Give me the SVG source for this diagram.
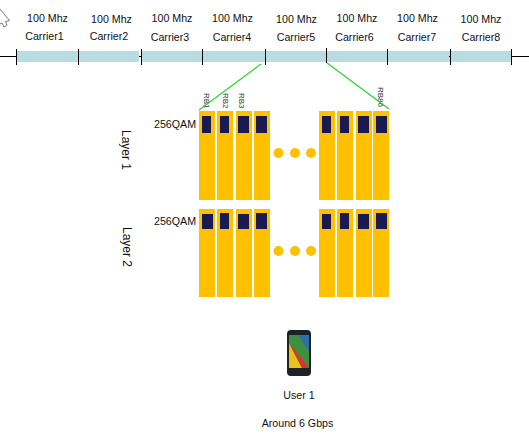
<svg xmlns="http://www.w3.org/2000/svg" width="529" height="438" viewBox="0 0 529 438">
<style>
text{font-family:"Liberation Sans",Arial,sans-serif;font-size:10.67px;fill:#111}
.t{text-anchor:middle}
.l{font-size:12px}
.band{fill:#b7dde1}
.tick{stroke:#000;stroke-width:1}
.rb{fill:#ffc000}
.in{fill:#1a1a52}
.dot{fill:#ffc000}
.g{stroke:#2fd62f;stroke-width:1.300;fill:none}
.s{font-size:8px;fill:#333}
</style>
<rect width="529" height="438" fill="#fff"/>
<g id="cursor"><path d="M0 9L9.500 20.500L5.500 21.500L7 25L4 27L2 23L0 24" fill="#fff" stroke="#555" stroke-width="0.800"/></g>
<g id="carriers">
<rect class="band" x="17" y="51" width="61" height="11"/>
<rect class="band" x="79" y="51" width="60" height="11"/>
<rect class="band" x="142" y="51" width="60" height="11"/>
<rect class="band" x="203" y="51" width="62" height="11"/>
<rect class="band" x="266" y="51" width="60" height="11"/>
<rect class="band" x="327" y="51" width="60" height="11"/>
<rect class="band" x="388" y="51" width="62" height="11"/>
<rect class="band" x="451" y="51" width="60" height="11"/>
</g>
<g id="axis">
<path class="tick" d="M0 56.500H17M511 56.500H529M139 56.500H142M449 56.500H451M16.500 49V65M78.500 49V65M141.500 49V65M202.500 49V65M265.500 49V65M326.500 48V63M387.500 49V65M450.500 49V65M511.500 49V65"/>
</g>
<g id="labels">
<text class="t" x="47.500" y="22">100 Mhz</text><text class="t" x="44.500" y="40">Carrier1</text>
<text class="t" x="111.500" y="23">100 Mhz</text><text class="t" x="109" y="40">Carrier2</text>
<text class="t" x="172" y="22">100 Mhz</text><text class="t" x="170" y="41">Carrier3</text>
<text class="t" x="232.500" y="22">100 Mhz</text><text class="t" x="232" y="41">Carrier4</text>
<text class="t" x="296.500" y="23">100 Mhz</text><text class="t" x="296" y="41">Carrier5</text>
<text class="t" x="357" y="22">100 Mhz</text><text class="t" x="354.500" y="41">Carrier6</text>
<text class="t" x="417.500" y="22">100 Mhz</text><text class="t" x="417" y="41">Carrier7</text>
<text class="t" x="481" y="23">100 Mhz</text><text class="t" x="481" y="41">Carrier8</text>
</g>
<g id="layer1">
<text class="t l" transform="translate(122 150) rotate(90)">Layer 1</text>
<text x="154" y="128">256QAM</text>
<rect class="rb" x="199" y="111" width="16" height="89"/><rect class="rb" x="217" y="111" width="16" height="89"/><rect class="rb" x="236" y="111" width="16" height="89"/><rect class="rb" x="254" y="111" width="16" height="89"/>
<rect class="rb" x="319" y="111" width="16" height="89"/><rect class="rb" x="337" y="111" width="16" height="89"/><rect class="rb" x="356" y="111" width="16" height="89"/><rect class="rb" x="373" y="111" width="16" height="89"/>
<rect class="in" x="202" y="116" width="9" height="17"/><rect class="in" x="220" y="116" width="9" height="17"/><rect class="in" x="238" y="116" width="11" height="17"/><rect class="in" x="256" y="116" width="11" height="17"/>
<rect class="in" x="322" y="116" width="9" height="17"/><rect class="in" x="340" y="116" width="9" height="17"/><rect class="in" x="358" y="116" width="11" height="17"/><rect class="in" x="376" y="116" width="11" height="17"/>
<circle class="dot" cx="278.500" cy="153" r="5"/><circle class="dot" cx="295" cy="153" r="5"/><circle class="dot" cx="311" cy="153" r="5"/>
<text class="s" transform="translate(204 93) rotate(90)">RB1</text>
<text class="s" transform="translate(223 93) rotate(90)">RB2</text>
<text class="s" transform="translate(239 93) rotate(90)">RB3</text>
<text class="s" transform="translate(378 87) rotate(90)">RB86</text>
</g>
<g id="layer2">
<text class="t l" transform="translate(123 247) rotate(90)">Layer 2</text>
<text x="154" y="225">256QAM</text>
<rect class="rb" x="199" y="209" width="16" height="88"/><rect class="rb" x="217" y="209" width="16" height="88"/><rect class="rb" x="236" y="209" width="16" height="88"/><rect class="rb" x="254" y="209" width="16" height="88"/>
<rect class="rb" x="319" y="209" width="16" height="88"/><rect class="rb" x="337" y="209" width="16" height="88"/><rect class="rb" x="356" y="209" width="16" height="88"/><rect class="rb" x="373" y="209" width="16" height="88"/>
<rect class="in" x="202" y="214" width="11" height="15"/><rect class="in" x="220" y="213" width="9" height="16"/><rect class="in" x="238" y="214" width="11" height="15"/><rect class="in" x="256" y="213" width="11" height="16"/>
<rect class="in" x="322" y="214" width="9" height="15"/><rect class="in" x="340" y="213" width="9" height="16"/><rect class="in" x="358" y="214" width="11" height="15"/><rect class="in" x="376" y="213" width="11" height="16"/>
<circle class="dot" cx="278.500" cy="251" r="5"/><circle class="dot" cx="295" cy="251" r="5"/><circle class="dot" cx="311" cy="251" r="5"/>
</g>
<g id="connectors">
<path class="g" d="M261 64L199 110M327 63L389 109"/>
</g>
<g id="user1">
<rect x="287" y="330" width="24" height="46" rx="4" fill="#1c2228"/>
<rect x="289" y="335" width="20" height="33" fill="#3f8f3f"/>
<path d="M289 343L302 368H289Z" fill="#e8c21a"/><path d="M289 343L309 368H302Z" fill="#d8342c"/><path d="M298 335H309V352Z" fill="#2e6fb0"/>
<text class="t" x="299" y="399">User 1</text>
<text class="t" x="297.500" y="427">Around 6 Gbps</text>
</g>
</svg>
